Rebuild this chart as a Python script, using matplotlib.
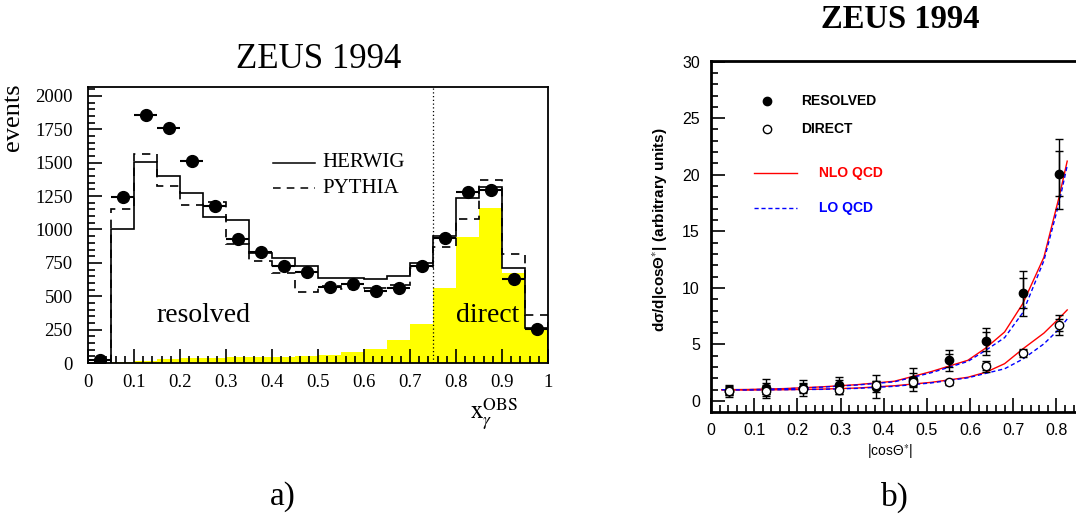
import numpy as np
import matplotlib
matplotlib.use("Agg")
import matplotlib.pyplot as plt
from matplotlib.ticker import MultipleLocator

# ---------------- data: panel a) ----------------
bin_edges = [0.05, 0.10, 0.15, 0.20, 0.25, 0.30, 0.35, 0.40, 0.45, 0.50,
             0.55, 0.60, 0.65, 0.70, 0.75, 0.80, 0.85, 0.90, 0.95, 1.00]
herwig = [1000, 1508, 1403, 1271, 1096, 1071, 826, 784, 727, 634,
          639, 629, 652, 747, 954, 1234, 1316, 709, 260]
pythia = [1154, 1566, 1326, 1183, 1208, 891, 764, 677, 534, 577,
          552, 565, 584, 709, 867, 1079, 1371, 814, 360]
direct_mc = [5, 15, 28, 40, 38, 45, 45, 47, 55, 60,
             85, 105, 172, 292, 564, 941, 1163, 672, 247]
data_x = [0.025, 0.075, 0.125, 0.175, 0.225, 0.275, 0.325, 0.375, 0.425, 0.475,
          0.525, 0.575, 0.625, 0.675, 0.725, 0.775, 0.825, 0.875, 0.925, 0.975]
data_y = [20, 1243, 1858, 1758, 1515, 1176, 929, 829, 729, 679,
          572, 592, 540, 562, 727, 934, 1279, 1296, 629, 255]
x_half_width = 0.025
x_cut = 0.75

# ---------------- data: panel b) ----------------
cos_x = [0.042, 0.127, 0.212, 0.297, 0.382, 0.467, 0.552, 0.637, 0.722, 0.806]
res_y = [0.90, 1.11, 1.17, 1.40, 1.26, 1.90, 3.60, 5.29, 9.53, 20.1]
res_tot = [0.55, 0.8, 0.7, 0.75, 1.0, 1.0, 0.95, 1.2, 2.0, 3.1]
res_stat = [0.35, 0.5, 0.4, 0.45, 0.5, 0.6, 0.6, 0.85, 1.3, 2.0]
dir_y = [0.90, 0.90, 1.10, 0.96, 1.46, 1.70, 1.64, 3.07, 4.27, 6.73]
dir_tot = [0.4, 0.5, 0.4, 0.35, 0.3, 0.45, 0.2, 0.5, 0.35, 0.9]
dir_stat = [0.25, 0.3, 0.25, 0.2, 0.2, 0.3, 0.1, 0.3, 0.2, 0.55]

curve_x = [0.025, 0.085, 0.17, 0.255, 0.34, 0.425, 0.51, 0.595, 0.637, 0.68,
           0.722, 0.771, 0.806, 0.825]
nlo_res = [1.0, 1.02, 1.1, 1.25, 1.45, 1.75, 2.6, 3.6, 4.7, 6.1, 8.6, 12.7, 18.0, 21.2]
lo_res = [1.0, 1.0, 1.08, 1.22, 1.42, 1.7, 2.5, 3.5, 4.5, 5.6, 7.8, 12.4, 17.5, 20.8]
nlo_dir = [1.0, 0.97, 1.0, 1.05, 1.15, 1.35, 1.65, 2.1, 2.55, 3.3, 4.6, 6.0, 7.3, 8.05]
lo_dir = [1.0, 0.98, 1.0, 1.03, 1.12, 1.3, 1.6, 2.05, 2.45, 2.85, 3.7, 5.05, 6.35, 7.25]

SERIF = "Liberation Serif"
SANS = "Liberation Sans"
plt.rcParams["mathtext.fontset"] = "stix"

W, H = 1076, 519
fig = plt.figure(figsize=(W / 100, H / 100), dpi=100)

def fx(px):
    return px / W

def fy(py):
    return 1 - py / H

# ---------------- panel a ----------------
axL = fig.add_axes([fx(88), fy(363), (548 - 88) / W, (363 - 87) / H])
axL.stairs(direct_mc, bin_edges, fill=True, color="#ffff00", lw=0)
axL.stairs(herwig, bin_edges, color="black", lw=1.2)
axL.stairs(pythia, bin_edges, color="black", lw=1.2, ls=(0, (5, 4)))
axL.errorbar(data_x, data_y, xerr=x_half_width, fmt="o", color="black",
             ms=8.5, elinewidth=1.5, capsize=0)
axL.axvline(x_cut, color="black", lw=0.9, ls=(0, (1, 2)))
axL.set_xlim(0, 1)
axL.set_ylim(0, 2067)
axL.xaxis.set_major_locator(MultipleLocator(0.1))
axL.xaxis.set_minor_locator(MultipleLocator(0.02))
axL.yaxis.set_major_locator(MultipleLocator(250))
axL.yaxis.set_minor_locator(MultipleLocator(50))
axL.tick_params(which="both", direction="in", top=False, right=False,
                labelsize=13.5, width=1.2)
axL.tick_params(axis="y", which="major", pad=11)
axL.tick_params(axis="x", which="major", pad=8)
axL.tick_params(which="major", length=10)
axL.tick_params(which="minor", length=5)
axL.xaxis.set_major_formatter(plt.FuncFormatter(lambda v, p: f"{v:g}"))
for lab in axL.get_xticklabels() + axL.get_yticklabels():
    lab.set_fontfamily(SERIF)
for s in axL.spines.values():
    s.set_linewidth(1.3)
axL.set_ylabel("events", fontfamily=SERIF, fontsize=19)
axL.yaxis.set_label_coords(-0.14, 0.89)
axL.text(0.83, -0.205, r"$\mathrm{x}_{\gamma}^{\mathrm{OBS}}$", transform=axL.transAxes,
         fontsize=18, va="baseline", ha="left")
axL.text(0.25, 0.148, "resolved", transform=axL.transAxes, fontfamily=SERIF,
         fontsize=20, ha="center", va="baseline")
axL.text(0.800, 0.148, "direct", transform=axL.transAxes, fontfamily=SERIF,
         fontsize=20, ha="left", va="baseline")
# key
axL.plot([0.4015, 0.493], [0.7257, 0.7257], color="black", lw=1.1, transform=axL.transAxes)
axL.plot([0.4015, 0.493], [0.633, 0.633], color="black", lw=1.1, ls=(0, (5, 4)),
         transform=axL.transAxes)
axL.text(0.51, 0.7257, "HERWIG", transform=axL.transAxes, fontfamily=SERIF,
         fontsize=15, va="center")
axL.text(0.51, 0.633, "PYTHIA", transform=axL.transAxes, fontfamily=SERIF,
         fontsize=15, va="center")
fig.text(fx(319), fy(68), "ZEUS 1994", fontfamily=SERIF, fontsize=25,
         ha="center", va="baseline")

# ---------------- panel b ----------------
axR = fig.add_axes([fx(711), fy(412), (1078 - 711) / W, (412 - 61) / H])
axR.plot(curve_x, nlo_res, color="red", lw=1.0)
axR.plot(curve_x, lo_res, color="blue", lw=1.0, ls=(0, (3, 2)))
axR.plot(curve_x, nlo_dir, color="red", lw=1.0)
axR.plot(curve_x, lo_dir, color="blue", lw=1.0, ls=(0, (3, 2)))
for yv, tot, st, mfc in [(res_y, res_tot, res_stat, "black"),
                         (dir_y, dir_tot, dir_stat, "white")]:
    axR.errorbar(cos_x, yv, yerr=tot, fmt="none", ecolor="black", elinewidth=1.0,
                 capsize=3, capthick=1.0)
    axR.errorbar(cos_x, yv, yerr=st, fmt="none", ecolor="black", elinewidth=1.0,
                 capsize=3, capthick=1.0)
    axR.plot(cos_x, yv, "o", ls="none", mfc=mfc, mec="black", ms=6, mew=1.0, zorder=5)
axR.set_xlim(0, 0.85)
axR.set_ylim(-0.97, 30.05)
axR.xaxis.set_major_locator(MultipleLocator(0.1))
axR.xaxis.set_minor_locator(MultipleLocator(0.02))
axR.yaxis.set_major_locator(MultipleLocator(5))
axR.yaxis.set_minor_locator(MultipleLocator(1))
axR.tick_params(which="both", direction="in", top=False, right=False,
                labelsize=11.5, width=1.2, pad=8)
axR.tick_params(which="major", length=10)
axR.tick_params(which="minor", length=5)
axR.xaxis.set_major_formatter(plt.FuncFormatter(lambda v, p: f"{v:g}"))
for lab in axR.get_xticklabels() + axR.get_yticklabels():
    lab.set_fontfamily(SANS)
for s in axR.spines.values():
    s.set_linewidth(2.0)
axR.spines["right"].set_visible(False)
# key
axR.plot([0.152], [0.887], "o", color="black", ms=6, transform=axR.transAxes)
axR.plot([0.152], [0.806], "o", mfc="white", mec="black", ms=6, transform=axR.transAxes)
axR.text(0.245, 0.887, "RESOLVED", transform=axR.transAxes, fontfamily=SANS,
         fontweight="bold", fontsize=10, va="center")
axR.text(0.245, 0.806, "DIRECT", transform=axR.transAxes, fontfamily=SANS,
         fontweight="bold", fontsize=10, va="center")
axR.plot([0.117, 0.234], [0.681, 0.681], color="red", lw=1.0, transform=axR.transAxes)
axR.plot([0.117, 0.234], [0.581, 0.581], color="blue", lw=1.0, ls=(0, (3, 2)),
         transform=axR.transAxes)
axR.text(0.294, 0.681, "NLO QCD", transform=axR.transAxes, fontfamily=SANS,
         fontweight="bold", fontsize=10, va="center", color="red")
axR.text(0.294, 0.581, "LO QCD", transform=axR.transAxes, fontfamily=SANS,
         fontweight="bold", fontsize=10, va="center", color="blue")
axR.text(0.488, -0.114, r"|cosΘ$^{*}$|", transform=axR.transAxes, fontfamily=SANS,
         fontsize=10, ha="center", va="center")
fig.text(fx(660), fy(230), r"dσ/d|cosΘ$^{*}$| (arbitrary units)", fontfamily=SANS,
         fontweight="bold", fontsize=11, rotation=90, ha="center", va="center")
fig.text(fx(900), fy(28), "ZEUS 1994", fontfamily=SERIF, fontweight="bold",
         fontsize=23.5, ha="center", va="baseline")

fig.text(fx(283), fy(497), "a)", fontfamily=SERIF, fontsize=24, ha="center", va="center")
fig.text(fx(895), fy(497), "b)", fontfamily=SERIF, fontsize=24, ha="center", va="center")

fig.savefig("out.png", dpi=100)
